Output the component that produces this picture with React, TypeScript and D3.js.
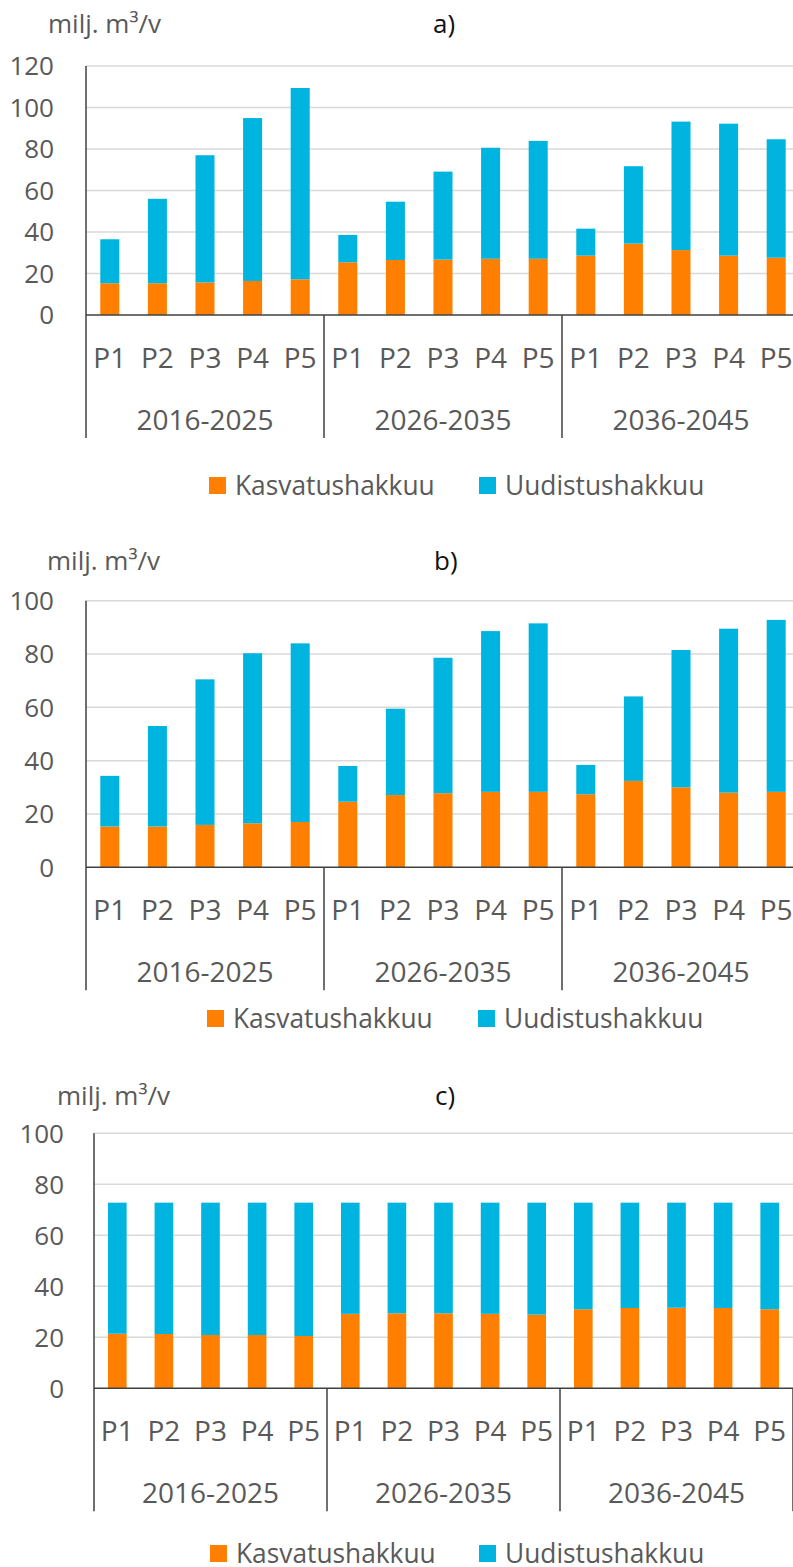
import React from 'react';
import * as d3 from 'd3';

// ---- data ----
const periods = ['2016-2025', '2026-2035', '2036-2045'];
const plans = ['P1', 'P2', 'P3', 'P4', 'P5'];
const seriesNames = ['Kasvatushakkuu', 'Uudistushakkuu'];
const seriesColors = ['#FF8000', '#00B4E0'];
const panelTitles = ['a)', 'b)', 'c)'];
const unitLabel = 'milj. m³/v';

// Panel a
const kasvatusA = [15.3, 15.3, 15.7, 16.4, 17.2, 25.4, 26.5, 26.7, 27.1, 27.1, 28.6, 34.4, 31.3, 28.6, 27.6];
const uudistusA = [21.2, 40.7, 61.3, 78.5, 92.2, 13.2, 28.1, 42.4, 53.5, 56.8, 13.0, 37.3, 61.9, 63.6, 57.1];
const yTicksA = [0, 20, 40, 60, 80, 100, 120];

// Panel b
const kasvatusB = [15.3, 15.3, 15.9, 16.5, 17.0, 24.6, 27.1, 27.8, 28.3, 28.3, 27.4, 32.4, 30.0, 28.0, 28.3];
const uudistusB = [19.0, 37.7, 54.6, 63.8, 67.0, 13.4, 32.4, 50.8, 60.3, 63.2, 11.0, 31.7, 51.5, 61.5, 64.5];
const yTicksB = [0, 20, 40, 60, 80, 100];

// Panel c
const kasvatusC = [21.4, 21.3, 20.9, 20.9, 20.5, 29.2, 29.4, 29.4, 29.2, 28.9, 31.0, 31.5, 31.6, 31.5, 31.0];
const uudistusC = [51.4, 51.5, 51.9, 51.9, 52.3, 43.6, 43.4, 43.4, 43.6, 43.9, 41.8, 41.3, 41.2, 41.3, 41.8];
const yTicksC = [0, 20, 40, 60, 80, 100];

// ---- layout (styles/positions) ----
const layouts = [
  { left: 86, groupW: 238, zero: 315, top: 66, unitX: 48, unitY: 33, titleX: 433, tickRight: 54, legendY: 495, legX: 209, legX2: 479 },
  { left: 86, groupW: 238, zero: 867.3, top: 600.7, unitX: 47, unitY: 570, titleX: 434, tickRight: 54, legendY: 1028, legX: 207, legX2: 478 },
  { left: 94, groupW: 233, zero: 1388.3, top: 1133.3, unitX: 57, unitY: 1105, titleX: 435, tickRight: 64, legendY: 1563, legX: 210, legX2: 479 },
];

const FONT = "'Open Sans', 'Noto Sans', sans-serif";
const GRAY = '#595959';

function Panel({ layout, kasv, uud, ticks, title }: any) {
  const keys = periods.flatMap((p) => plans.map((q) => p + '|' + q));
  const rows = keys.map((k, i) => ({ key: k, Kasvatushakkuu: kasv[i], Uudistushakkuu: uud[i] }));
  const right = layout.left + periods.length * layout.groupW;
  const x = d3.scaleBand().domain(keys).range([layout.left, right]).paddingInner(0.6).paddingOuter(0.3);
  const yMax = ticks[ticks.length - 1];
  const y = d3.scaleLinear().domain([0, yMax]).range([layout.zero, layout.top]);
  const stacked = d3.stack<any>().keys(seriesNames)(rows as any);
  const sepBottom = layout.zero + 123;

  return (
    <g>
      <text x={layout.unitX} y={layout.unitY} fontSize={26} fill={GRAY} fontFamily={FONT}>{unitLabel}</text>
      <text x={layout.titleX} y={layout.unitY} fontSize={26} fill="#111" fontFamily={FONT}>{title}</text>
      {ticks.filter((t: number) => t > 0).map((t: number) => (
        <line key={'g' + t} x1={layout.left} x2={right} y1={y(t)} y2={y(t)} stroke="#D9D9D9" strokeWidth={1.5} />
      ))}
      {ticks.map((t: number) => (
        <text key={'t' + t} x={layout.tickRight} y={y(t)} dy="0.36em" textAnchor="end" fontSize={26} fill={GRAY} fontFamily={FONT}>{t}</text>
      ))}
      {stacked.map((s: any, si: number) => (
        <g key={s.key} fill={seriesColors[si]}>
          {s.map((d: any) => (
            <rect key={d.data.key} x={x(d.data.key)} width={x.bandwidth()} y={y(d[1])} height={y(d[0]) - y(d[1])} />
          ))}
        </g>
      ))}
      <line x1={layout.left} x2={right} y1={layout.zero} y2={layout.zero} stroke="#404040" strokeWidth={1.5} />
      <line x1={layout.left} x2={layout.left} y1={layout.top} y2={sepBottom} stroke="#404040" strokeWidth={1.5} />
      {periods.map((p, gi) => (
        <line key={'s' + p} x1={layout.left + (gi + 1) * layout.groupW} x2={layout.left + (gi + 1) * layout.groupW} y1={layout.zero} y2={sepBottom} stroke="#404040" strokeWidth={1.5} />
      ))}
      {keys.map((k) => (
        <text key={'c' + k} x={(x(k) as number) + x.bandwidth() / 2} y={layout.zero + 53} textAnchor="middle" fontSize={28} fill={GRAY} fontFamily={FONT}>{k.split('|')[1]}</text>
      ))}
      {periods.map((p, gi) => (
        <text key={'p' + p} x={layout.left + (gi + 0.5) * layout.groupW} y={layout.zero + 115} textAnchor="middle" fontSize={28} fill={GRAY} fontFamily={FONT}>{p}</text>
      ))}
      {seriesNames.map((n, i) => {
        const lx = i === 0 ? layout.legX : layout.legX2;
        return (
          <g key={'l' + n}>
            <rect x={lx} y={layout.legendY - 18} width={17} height={17} fill={seriesColors[i]} />
            <text transform={`translate(${lx + 26},${layout.legendY}) scale(0.94,1)`} x={0} y={0} fontSize={28} fill={GRAY} fontFamily={FONT}>{n}</text>
          </g>
        );
      })}
    </g>
  );
}

export default function App() {
  const data = [
    [kasvatusA, uudistusA, yTicksA],
    [kasvatusB, uudistusB, yTicksB],
    [kasvatusC, uudistusC, yTicksC],
  ];
  return (
    <svg width={793} height={1567} style={{ position: 'absolute', left: 0, top: 0, background: '#fff' }}>
      <rect x={0} y={0} width={793} height={1567} fill="#fff" />
      {data.map((d, i) => (
        <Panel key={i} layout={layouts[i]} kasv={d[0]} uud={d[1]} ticks={d[2]} title={panelTitles[i]} />
      ))}
    </svg>
  );
}
